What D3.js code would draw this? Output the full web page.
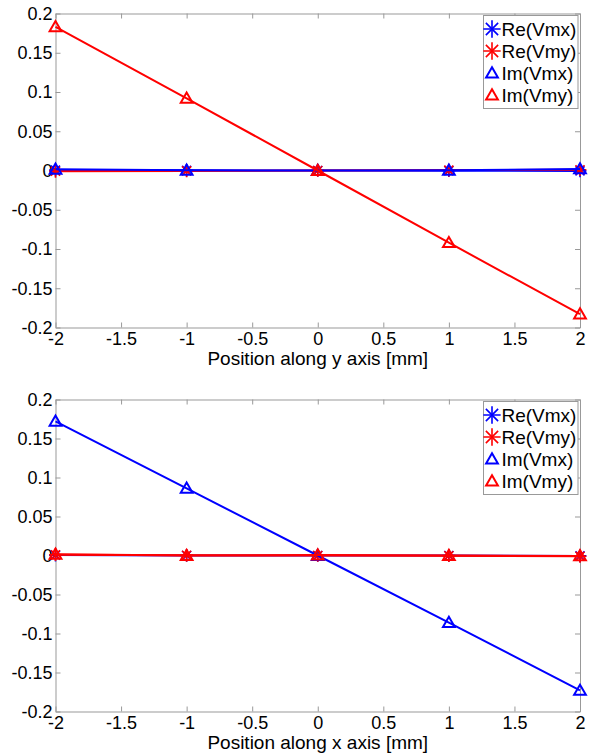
<!DOCTYPE html>
<html>
<head>
<meta charset="utf-8">
<script src="https://cdn.jsdelivr.net/npm/d3@7"></script>
<style>
  body { margin: 0; background: #fff; }
  svg { display: block; font-family: "Liberation Sans", Arial, sans-serif; }
</style>
</head>
<body>
<div id="container"></div>
<script>
// positions along the scan axis (mm)
const positions = [-2, -1, 0, 1, 2];

// scan along y
const yScanReVmx = [0.0005, 0.0002, 0, -0.0002, -0.0005];
const yScanReVmy = [-0.001, -0.0005, 0, 0.0005, 0.001];
const yScanImVmx = [0.0015, 0.0003, 0, 0.0003, 0.002];
const yScanImVmy = [0.183, 0.092, 0, -0.092, -0.183];

// scan along x
const xScanReVmx = [0.0005, 0, 0, 0, -0.0005];
const xScanReVmy = [0.001, 0.0003, 0, -0.0003, -0.001];
const xScanImVmx = [0.172, 0.086, 0, -0.086, -0.173];
const xScanImVmy = [0.0015, 0, 0.0005, 0, -0.0005];

const seriesNames = ["Re(Vmx)", "Re(Vmy)", "Im(Vmx)", "Im(Vmy)"];
const seriesColors = ["#0000ff", "#ff0000", "#0000ff", "#ff0000"];
const seriesMarkers = ["star", "star", "triangle", "triangle"];

const xTickValues = [-2, -1.5, -1, -0.5, 0, 0.5, 1, 1.5, 2];
const yTickValues = [-0.2, -0.15, -0.1, -0.05, 0, 0.05, 0.1, 0.15, 0.2];

const panels = [
  { top: 13.5, bottom: 327.5, xlabel: "Position along y axis [mm]",
    series: [yScanReVmx, yScanReVmy, yScanImVmx, yScanImVmy] },
  { top: 399.5, bottom: 711.5, xlabel: "Position along x axis [mm]",
    series: [xScanReVmx, xScanReVmy, xScanImVmx, xScanImVmy] }
];

const W = 590, H = 756;
const left = 55.5, right = 580;
const axisGray = "#999";

const svg = d3.select("#container").append("svg")
  .attr("width", W).attr("height", H);

const fmt = d => String(+d.toFixed(2));

function drawMarker(g, type, color, x, y, starSize) {
  if (type === "triangle") {
    g.append("path")
      .attr("d", d3.symbol(d3.symbolTriangle, 60)())
      .attr("transform", `translate(${x},${y + 1})`)
      .attr("fill", "none")
      .attr("stroke", color)
      .attr("stroke-width", 2);
  } else {
    // asterisk = plus + cross
    [d3.symbolPlus, d3.symbolX].forEach(s => {
      g.append("path")
        .attr("d", d3.symbol(s, starSize)())
        .attr("transform", `translate(${x},${y})`)
        .attr("fill", "none")
        .attr("stroke", color)
        .attr("stroke-width", 1.6);
    });
  }
}

panels.forEach(p => {
  const x = d3.scaleLinear().domain([-2, 2]).range([left, right]);
  const y = d3.scaleLinear().domain([-0.2, 0.2]).range([p.bottom, p.top]);
  const g = svg.append("g");

  // axes box with inward ticks on all four sides
  const axes = [
    { a: d3.axisBottom(x).tickValues(xTickValues).tickFormat(fmt), t: `translate(0,${p.bottom})` },
    { a: d3.axisTop(x).tickValues(xTickValues).tickFormat(""), t: `translate(0,${p.top})` },
    { a: d3.axisLeft(y).tickValues(yTickValues).tickFormat(fmt), t: `translate(${left},0)` },
    { a: d3.axisRight(y).tickValues(yTickValues).tickFormat(""), t: `translate(${right},0)` }
  ];
  axes.forEach((ax, i) => {
    const ag = g.append("g")
      .attr("transform", ax.t)
      .call(ax.a.tickSizeInner(-5).tickSizeOuter(0).tickPadding(i === 0 ? 5 : 3));
    ag.select(".domain").attr("stroke", axisGray);
    ag.selectAll(".tick line").attr("stroke", axisGray);
    ag.selectAll(".tick text")
      .attr("fill", "#000")
      .style("font-size", "18px");
  });

  g.append("text")
    .attr("x", (left + right) / 2)
    .attr("y", p.bottom + 37)
    .attr("text-anchor", "middle")
    .style("font-size", "19px")
    .text(p.xlabel);

  const line = d3.line()
    .x((d, i) => x(positions[i]))
    .y(d => y(d));

  p.series.forEach((vals, k) => {
    g.append("path")
      .datum(vals)
      .attr("d", line)
      .attr("fill", "none")
      .attr("stroke", seriesColors[k])
      .attr("stroke-width", 2);
    vals.forEach((v, i) => {
      drawMarker(g, seriesMarkers[k], seriesColors[k], x(positions[i]), y(v), 55);
    });
  });

  // legend
  const lg = g.append("g");
  lg.append("rect")
    .attr("x", 483.5).attr("y", p.top + 2)
    .attr("width", 94.5).attr("height", 93)
    .attr("fill", "#fff")
    .attr("stroke", axisGray);
  seriesNames.forEach((name, k) => {
    const cy = p.top + 15.5 + k * 22;
    drawMarker(lg, seriesMarkers[k], seriesColors[k], 492, cy, 100);
    lg.append("text")
      .attr("x", 501.5)
      .attr("y", cy)
      .attr("dy", "0.36em")
      .style("font-size", "19px")
      .text(name);
  });
});
</script>
</body>
</html>
